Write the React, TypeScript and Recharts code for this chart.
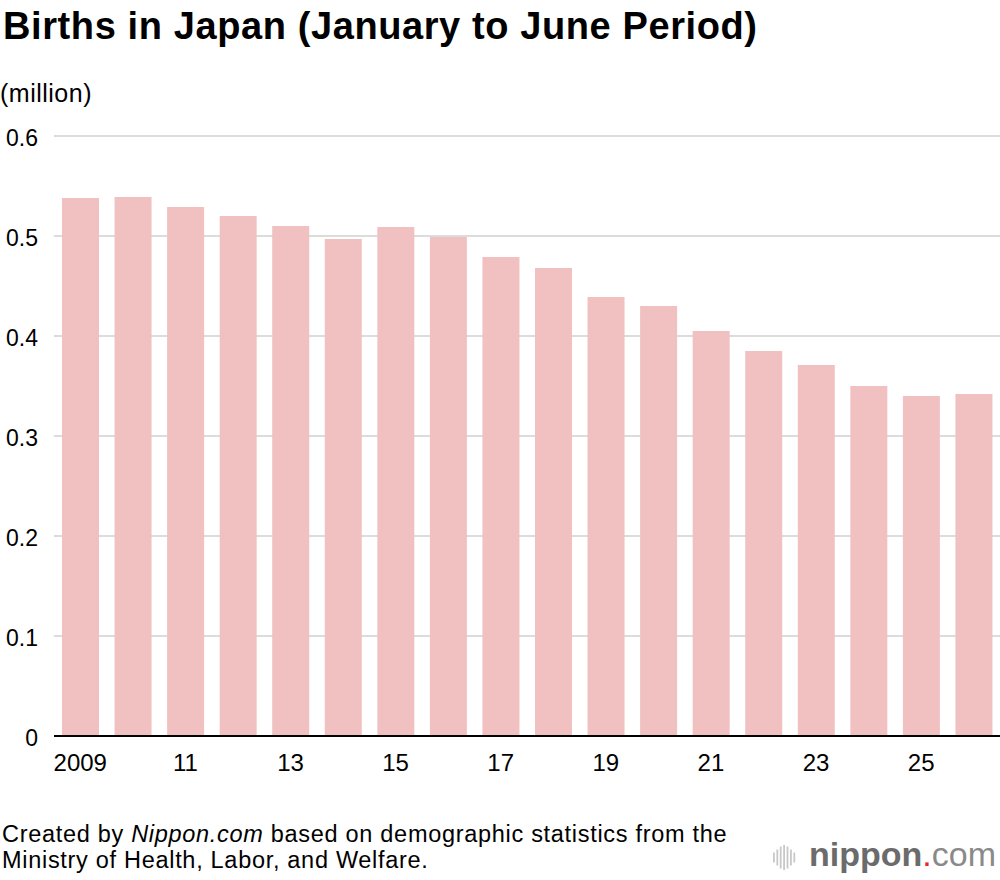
import React from 'react'
import { BarChart, Bar, XAxis, YAxis, CartesianGrid } from 'recharts'

const C = {
  bar: '#f0c1c0', grid: '#d0d0d0', axis: '#000000', text: '#000000',
  logo: '#6b6b6b', logoLight: '#8a8a8a', dot: '#e8262c', icon: '#c8c8c8',
}
const FONT = '"Liberation Sans", Arial, Helvetica, sans-serif'

// years shown on the category axis (2009, then two-digit)
const years = ['2009', '10', '11', '12', '13', '14', '15', '16', '17', '18', '19', '20', '21', '22', '23', '24', '25', '26']
// births, January to June, in millions
const births = [0.538, 0.539, 0.529, 0.520, 0.510, 0.497, 0.509, 0.499, 0.479, 0.468, 0.439, 0.430, 0.405, 0.385, 0.371, 0.350, 0.340, 0.342]
const yTicks = [0, 0.1, 0.2, 0.3, 0.4, 0.5, 0.6]

const data = years.map((y, i) => ({ year: y, births: births[i] }))

// heights of the little bars in the logo mark
const iconBars = [10, 16, 22, 25, 22, 16, 10]

function Logo() {
  return (
    <div style={{ position: 'absolute', left: 773, top: 837, display: 'flex', alignItems: 'flex-start' }}>
      <svg width={26} height={34} style={{ marginTop: 8 }}>
        {iconBars.map((h, i) => (
          <rect key={i} x={i * 3.4} y={(25 - h) / 2} width={1.8} height={h} fill={C.icon} />
        ))}
      </svg>
      <div style={{ marginLeft: 10, fontSize: 34, lineHeight: '34px', fontFamily: FONT, whiteSpace: 'nowrap' }}>
        <span style={{ fontWeight: 700, color: C.logo }}>nippon</span>
        <span style={{ color: C.dot }}>.</span>
        <span style={{ color: C.logoLight }}>com</span>
      </div>
    </div>
  )
}

export default function App() {
  return (
    <div style={{ position: 'absolute', left: 0, top: 0, width: 1000, height: 880, background: '#fff', fontFamily: FONT, color: C.text, overflow: 'hidden' }}>
      <div style={{ position: 'absolute', left: 3, top: 7, fontSize: 38, lineHeight: '38px', fontWeight: 700, letterSpacing: 0.6, whiteSpace: 'nowrap' }}>
        Births in Japan (January to June Period)
      </div>
      <div style={{ position: 'absolute', left: 0, top: 81, fontSize: 25, lineHeight: '25px', letterSpacing: 0.5, whiteSpace: 'nowrap' }}>
        (million)
      </div>

      <div style={{ position: 'absolute', left: 0, top: 0 }}>
        <BarChart width={1000} height={800} data={data} margin={{ top: 136, right: 0, bottom: 0, left: 0 }}>
          <CartesianGrid vertical={false} stroke={C.grid} strokeWidth={1.5} />
          <XAxis
            dataKey="year"
            interval={1}
            height={64}
            tickLine={false}
            tickSize={0}
            tickMargin={18}
            axisLine={{ stroke: C.axis, strokeWidth: 2 }}
            tick={{ fill: C.text, fontSize: 24, fontFamily: FONT }}
          />
          <YAxis
            width={54}
            domain={[0, 0.6]}
            ticks={yTicks}
            interval={0}
            axisLine={false}
            tickLine={false}
            tickSize={0}
            tickMargin={16}
            tick={{ fill: C.text, fontSize: 23, fontFamily: FONT, dy: 2 }}
          />
          <Bar dataKey="births" fill={C.bar} barSize={37} isAnimationActive={false} />
        </BarChart>
      </div>

      <div style={{ position: 'absolute', left: 2, top: 821, fontSize: 23.5, lineHeight: '26px', letterSpacing: 0.7, whiteSpace: 'nowrap' }}>
        Created by <i>Nippon.com</i> based on demographic statistics from the<br />
        Ministry of Health, Labor, and Welfare.
      </div>
      <Logo />
    </div>
  )
}
